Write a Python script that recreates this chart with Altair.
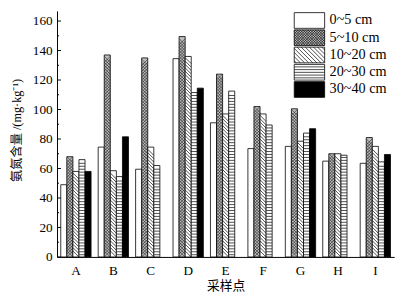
import altair as alt
import pandas as pd

sites = list("ABCDEFGHI")
depths = ["0~5 cm", "5~10 cm", "10~20 cm", "20~30 cm", "30~40 cm"]
v_0_5 = [49, 74.5, 59.5, 134.5, 91, 73.5, 75, 65, 63.5]
v_5_10 = [68, 137, 135, 149.5, 124, 102, 100.5, 70, 81]
v_10_20 = [58, 58.5, 74.5, 136, 97, 97, 78.5, 70, 75]
v_20_30 = [66, 54.5, 62, 111.5, 112.5, 89.5, 84, 69, 64.5]
v_30_40 = [58, 81.5, None, 114.5, None, None, 87, None, 69.5]
y_labels = list(range(0, 161, 20))
y_minor = list(range(0, 161, 10))

series = [v_0_5, v_5_10, v_10_20, v_20_30, v_30_40]
rows = []
for d, vals in zip(depths, series):
    for s, v in zip(sites, vals):
        if v is not None:
            rows.append({"site": s, "depth": d, "value": v})
df = pd.DataFrame(rows)

W, H = 344, 251
YMAX = 166.9
serif = "Liberation Serif, Times New Roman, serif"
cjk = "Liberation Serif, Noto Sans CJK SC, serif"
fills = ["white", "#bdbdbd", "white", "white", "black"]

xenc = alt.X(
    "site:N", sort=sites,
    scale=alt.Scale(domain=sites, paddingInner=0.19, paddingOuter=0.1),
    axis=alt.Axis(title="采样点", labelAngle=0, ticks=False, tickSize=0, labelPadding=7,
                  labelFont=serif, labelFontSize=13.5, labelColor="black",
                  domainColor="black", domainWidth=1,
                  titleFont=cjk, titleFontSize=13, titleFontWeight="normal", titleColor="black",
                  titleX=W / 2, titleY=29, titleBaseline="middle"),
)
xoff = alt.XOffset("depth:N", sort=depths, scale=alt.Scale(domain=depths, paddingInner=0, paddingOuter=0))
yscale = alt.Scale(domain=[0, YMAX], nice=False, zero=True)
yaxis = alt.Axis(title="氨氮含量 /(mg·kg⁻¹)", values=y_labels, ticks=False, tickSize=0, labelPadding=5,
                 grid=False, labelFont=serif, labelFontSize=13.5, labelColor="black",
                 domainColor="black", domainWidth=1,
                 titleFont=cjk, titleFontSize=12.5, titleFontWeight="normal", titleColor="black",
                 titleX=-41, titleY=H / 2 - 4, titleAngle=270, titleAlign="center", titleBaseline="middle")

fill_enc = alt.Fill("depth:N", scale=alt.Scale(domain=depths, range=fills), legend=None)

bars = alt.Chart(df).mark_bar(stroke="black", strokeWidth=0.8).encode(
    x=xenc, xOffset=xoff, y=alt.Y("value:Q", scale=yscale, axis=yaxis), fill=fill_enc
)


def tex(depth, margin, step, shape, size, sw):
    return (
        alt.Chart(df)
        .transform_filter(alt.datum.depth == depth)
        .transform_calculate(seq=f"sequence({margin}, datum.value - {margin} + 0.001, {step})")
        .transform_flatten(["seq"])
        .mark_point(shape=shape, size=size, filled=False, stroke="black", strokeWidth=sw, opacity=1)
        .encode(x=xenc, xOffset=xoff, y=alt.Y("seq:Q", scale=yscale, axis=yaxis))
    )


tex_check = tex(depths[1], 2.0, 2.0, "M-1,-1L1,1M-1,1L1,-1", 36, 0.5)
tex_diag = tex(depths[2], 2.0, 2.3, "M-1,-1L1,1", 34, 0.7)
tex_horz = tex(depths[3], 1.5, 2.0, "M-1,0L1,0", 36, 0.7)

tick_df = pd.DataFrame({"t": y_minor})
ticks_major = alt.Chart(tick_df).transform_filter("datum.t % 20 == 0").mark_rule(
    color="black", strokeWidth=1).encode(
    y=alt.Y("t:Q", scale=yscale, axis=yaxis), x=alt.value(0), x2=alt.value(4))
ticks_minor = alt.Chart(tick_df).transform_filter("datum.t % 20 != 0").mark_rule(
    color="black", strokeWidth=1).encode(
    y=alt.Y("t:Q", scale=yscale, axis=yaxis), x=alt.value(0), x2=alt.value(2))

main = alt.layer(bars, tex_check, tex_diag, tex_horz, ticks_major, ticks_minor)

# ---- legend (pixel-space layer) ----
lx = alt.Scale(domain=[0, W], range=[0, W], nice=False, zero=False)
ly = alt.Scale(domain=[0, H], range=[0, H], nice=False, zero=False)
leg_df = pd.DataFrame({"depth": depths, "i": list(range(5))})
BX0, BW, BY0, BSTEP, BH = 242, 31, 1.8, 17.6, 16

leg_base = alt.Chart(leg_df).transform_calculate(
    x0=f"{BX0}", x1=f"{BX0 + BW}", y0=f"{BY0} + {BSTEP} * datum.i",
    y1=f"{BY0} + {BSTEP} * datum.i + {BH}", yc=f"{BY0} + {BSTEP} * datum.i + {BH / 2}",
    tx=f"{BX0 + BW + 5}")

leg_rect = leg_base.mark_rect(stroke="black", strokeWidth=0.8).encode(
    x=alt.X("x0:Q", scale=lx, axis=None), x2="x1:Q",
    y=alt.Y("y0:Q", scale=ly, axis=None), y2="y1:Q", fill=fill_enc)


def leg_diag(depth, step, mirror, sw):
    k = 1.0
    xa = f"{BX0} + datum.c + (datum.ya - datum.y0) * {k}"
    xb = f"{BX0} + datum.c + (datum.yb - datum.y0) * {k}"
    if mirror:
        xa = f"{2 * BX0 + BW} - ({xa})"
        xb = f"{2 * BX0 + BW} - ({xb})"
    return (
        leg_base.transform_filter(alt.datum.depth == depth)
        .transform_calculate(cs=f"sequence({-BH * k + step / 2}, {BW}, {step})")
        .transform_flatten(["cs"], as_=["c"])
        .transform_calculate(ya=f"datum.y0 + max(0, -datum.c / {k})",
                             yb=f"datum.y0 + min({BH}, ({BW} - datum.c) / {k})")
        .transform_calculate(xa=xa, xb=xb)
        .mark_rule(color="black", strokeWidth=sw)
        .encode(x=alt.X("xa:Q", scale=lx, axis=None), x2="xb:Q",
                y=alt.Y("ya:Q", scale=ly, axis=None), y2="yb:Q")
    )


leg_check1 = leg_diag(depths[1], 2.6, False, 0.6)
leg_check2 = leg_diag(depths[1], 2.6, True, 0.6)
leg_hatch = leg_diag(depths[2], 4.2, False, 0.7)
leg_horz = (
    leg_base.transform_filter(alt.datum.depth == depths[3])
    .transform_calculate(hs=f"sequence(2.5, {BH - 1}, 2.8)")
    .transform_flatten(["hs"], as_=["h"])
    .transform_calculate(hy="datum.y0 + datum.h")
    .mark_rule(color="black", strokeWidth=0.7)
    .encode(x=alt.X("x0:Q", scale=lx, axis=None), x2="x1:Q", y=alt.Y("hy:Q", scale=ly, axis=None))
)
leg_text = leg_base.mark_text(align="left", baseline="middle", font=serif, fontSize=14.5, color="black").encode(
    x=alt.X("tx:Q", scale=lx, axis=None), y=alt.Y("yc:Q", scale=ly, axis=None), text="depth:N")

legend = alt.layer(leg_rect, leg_check1, leg_check2, leg_hatch, leg_horz, leg_text)

chart = (
    alt.layer(main, legend)
    .resolve_scale(x="independent", y="independent")
    .properties(width=W, height=H, padding={"left": 50, "top": 0, "right": 12, "bottom": 42},
                autosize=alt.AutoSizeParams(type="none"), background="white")
    .configure_view(stroke=None)
)

chart.save("out.html", embed_options={"renderer": "svg", "actions": False})
